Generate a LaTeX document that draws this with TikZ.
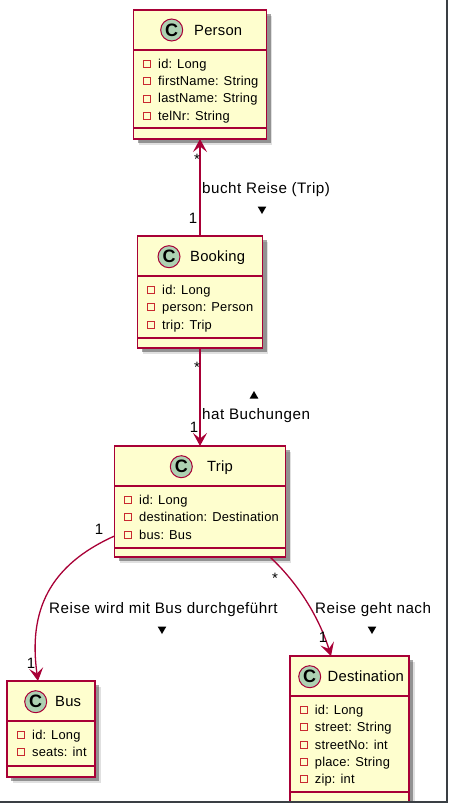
\documentclass[tikz,border=0pt]{standalone}
\usepackage{fontspec}
\setmainfont{Liberation Sans}[LetterSpace=1.5]
\usepackage{tikz}
\usetikzlibrary{arrows.meta, calc, shadows, shapes.geometric}
\definecolor{umlfill}{HTML}{FEFECE}
\definecolor{umlred}{HTML}{A80036}
\definecolor{umlgreen}{HTML}{ADD1B2}
\definecolor{fieldred}{HTML}{C82930}
\definecolor{frameline}{HTML}{3A3F44}
\tikzset{
    umlclass/.style={draw=umlred, fill=umlfill, line width=1.5pt, rectangle, inner sep=0pt, outer sep=0pt,
        drop shadow={shadow xshift=5.5pt, shadow yshift=-5.5pt, fill=black, opacity=0.12},
        drop shadow={shadow xshift=4pt, shadow yshift=-4pt, fill=black, opacity=0.35}},
    classline/.style={draw=umlred, line width=1.5pt},
    badge/.style={circle, draw=umlred, fill=umlgreen, line width=1pt, minimum size=22pt, inner sep=0pt,
        font=\fontsize{18}{18}\selectfont\bfseries, text=black},
    classname/.style={anchor=west, inner sep=0pt, text height=10pt, text depth=3pt, font=\fontsize{14.8}{16}\selectfont},
    member/.style={anchor=west, inner sep=0pt, text height=9pt, text depth=3pt, font=\fontsize{12.9}{14}\selectfont},
    fieldmark/.style={rectangle, draw=fieldred, line width=1pt, minimum size=7pt, inner sep=0pt},
    assoc/.style={draw=umlred, line width=1.3pt},
    openarrow/.style={-{Stealth[length=13pt, width=14pt, inset=5.5pt, color=umlred]}},
    linktext/.style={anchor=west, inner sep=0pt, text height=10pt, text depth=3pt,
        font=\fontsize{15.2}{16}\selectfont\addfontfeature{LetterSpace=3.3}},
    multi/.style={inner sep=0pt, font=\fontsize{15}{16}\selectfont},
    dirmark/.style={regular polygon, regular polygon sides=3, fill=black, minimum size=10pt, inner sep=0pt}
}
\begin{document}
\begin{tikzpicture}[x=1pt, y=-1pt]
    \useasboundingbox (0, 0) rectangle (448, 803);
    \clip (0, 0) rectangle (448, 803);

    % classes
    \node[umlclass, minimum width=133pt, minimum height=129pt] (person) at (200, 74.5) {};
    \node[umlclass, minimum width=125pt, minimum height=112pt] (booking) at (200, 292) {};
    \node[umlclass, minimum width=171pt, minimum height=111pt] (trip) at (200, 501.5) {};
    \node[umlclass, minimum width=88pt, minimum height=96pt] (bus) at (51, 729) {};
    \node[umlclass, minimum width=119pt, minimum height=146pt] (destination) at (349.5, 729) {};

    \draw[classline] ($(person.north west)+(0, 40)$) -- ($(person.north east)+(0, 40)$);
    \draw[classline] ($(person.south west)+(0, -11)$) -- ($(person.south east)+(0, -11)$);
    \draw[classline] ($(booking.north west)+(0, 40)$) -- ($(booking.north east)+(0, 40)$);
    \draw[classline] ($(booking.south west)+(0, -10)$) -- ($(booking.south east)+(0, -10)$);
    \draw[classline] ($(trip.north west)+(0, 40)$) -- ($(trip.north east)+(0, 40)$);
    \draw[classline] ($(trip.south west)+(0, -9)$) -- ($(trip.south east)+(0, -9)$);
    \draw[classline] ($(bus.north west)+(0, 40)$) -- ($(bus.north east)+(0, 40)$);
    \draw[classline] ($(bus.south west)+(0, -11)$) -- ($(bus.south east)+(0, -11)$);
    \draw[classline] ($(destination.north west)+(0, 40)$) -- ($(destination.north east)+(0, 40)$);
    \draw[classline] ($(destination.south west)+(0, -10)$) -- ($(destination.south east)+(0, -10)$);

    \node[badge] (cperson) at (171.7, 30) {C};
    \node[classname] (nperson) at (194, 31.5) {Person};
    \node[badge] (cbooking) at (169, 256.7) {C};
    \node[classname] (nbooking) at (190, 257.5) {Booking};
    \node[badge] (ctrip) at (181.3, 466.7) {C};
    \node[classname] (ntrip) at (207, 467.5) {Trip};
    \node[badge] (cbus) at (35.7, 701.7) {C};
    \node[classname] (nbus) at (55, 702.5) {Bus};
    \node[badge] (cdestination) at (309.7, 676.7) {C};
    \node[classname] (ndestination) at (327.5, 677.5) {Destination};

    % fields
    \foreach \txt [count=\i] in {id: Long, firstName: String, lastName: String, telNr: String} {
        \node[fieldmark] (fperson\i) at (147, {64+17.4*(\i-1)}) {};
        \node[member] (mperson\i) at (158, {65+17.4*(\i-1)}) {\txt};
    }
    \foreach \txt [count=\i] in {id: Long, person: Person, trip: Trip} {
        \node[fieldmark] (fbooking\i) at (151, {290+17.4*(\i-1)}) {};
        \node[member] (mbooking\i) at (162, {291.5+17.4*(\i-1)}) {\txt};
    }
    \foreach \txt [count=\i] in {id: Long, destination: Destination, bus: Bus} {
        \node[fieldmark] (ftrip\i) at (128.3, {500+17.4*(\i-1)}) {};
        \node[member] (mtrip\i) at (139, {501.2+17.4*(\i-1)}) {\txt};
    }
    \foreach \txt [count=\i] in {id: Long, seats: int} {
        \node[fieldmark] (fbus\i) at (21.3, {735+17.4*(\i-1)}) {};
        \node[member] (mbus\i) at (32, {736.5+17.4*(\i-1)}) {\txt};
    }
    \foreach \txt [count=\i] in {id: Long, street: String, streetNo: int, place: String, zip: int} {
        \node[fieldmark] (fdestination\i) at (304.3, {710+17.3*(\i-1)}) {};
        \node[member] (mdestination\i) at (314.7, {711.5+17.3*(\i-1)}) {\txt};
    }

    % associations
    \draw[assoc, openarrow] (booking.north) -- (person.south);
    \draw[assoc, openarrow] (booking.south) -- (trip.north);
    \draw[assoc, openarrow] ([yshift=-34.5pt]trip.west) .. controls (50, 565) and (28, 610) .. ([xshift=-13pt]bus.north);
    \draw[assoc, openarrow] ([xshift=70pt]trip.south) .. controls (300, 585) and (320, 620) .. ([xshift=-18.5pt]destination.north);

    % labels
    \node[multi] (m1) at (197, 159) {*};
    \node[multi] (m2) at (193, 218) {1};
    \node[linktext] (l1) at (202, 189.5) {bucht Reise (Trip)};
    \node[dirmark, shape border rotate=180] (d1) at (262, 209) {};
    \node[multi] (m3) at (197, 367) {*};
    \node[multi] (m4) at (194, 427) {1};
    \node[linktext] (l2) at (202, 415.5) {hat Buchungen};
    \node[dirmark] (d2) at (254, 396) {};
    \node[multi] (m5) at (99, 529) {1};
    \node[multi] (m6) at (31, 663) {1};
    \node[linktext] (l3) at (49, 609.5) {Reise wird mit Bus durchgeführt};
    \node[dirmark, shape border rotate=180] (d3) at (162, 629) {};
    \node[multi] (m7) at (275, 578) {*};
    \node[multi] (m8) at (323, 637) {1};
    \node[linktext] (l4) at (315, 609.5) {Reise geht nach};
    \node[dirmark, shape border rotate=180] (d4) at (372, 629) {};

    % frame of the screenshot
    \fill[frameline] (446, 0) rectangle (448, 803);
    \fill[frameline] (0, 801) rectangle (448, 803);
\end{tikzpicture}
\end{document}
